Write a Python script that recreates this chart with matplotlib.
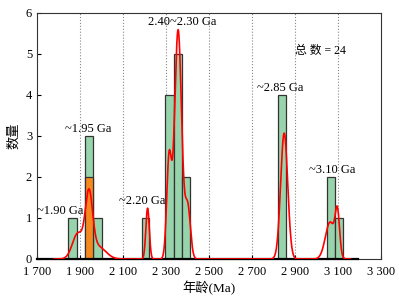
import numpy as np
import matplotlib
matplotlib.use('Agg')
import matplotlib.pyplot as plt

plt.rcParams['font.family'] = ['Liberation Serif', 'Noto Sans CJK SC', 'DejaVu Sans']

# histogram bins (Ma) and zircon counts
bin_left = [1846, 1924, 1962, 2188, 2298, 2336, 2374, 2824, 3049, 3086]
bin_right = [1885, 1962, 2001, 2221, 2336, 2374, 2411, 2861, 3086, 3123]
counts = [1, 3, 1, 1, 4, 5, 2, 4, 2, 1]

# orange sub-population
sub_left = [1924]
sub_right = [1962]
sub_counts = [2]

# probability curve components: age, spread, height
peak_age = [1890, 1942, 1985, 2215, 2315, 2357, 2402, 2851, 3065, 3099]
peak_sd = [25, 17, 35, 8, 11, 16.6, 12.5, 16.4, 22, 10]
peak_h = [0.62, 1.5, 0.3, 1.24, 2.4, 5.59, 1.25, 3.07, 0.9, 1.0]
curve_range = [1780, 3160]
base_range = [1700, 3195]

xticks = [1700, 1900, 2100, 2300, 2500, 2700, 2900, 3100, 3300]
xtick_labels = ['1 700', '1 900', '2 100', '2 300', '2 500', '2 700', '2 900', '3 100', '3 300']
grid_x = [1900, 2100, 2300, 2500, 2700, 2900, 3100]

labels = ['~1.90 Ga', '~1.95 Ga', '~2.20 Ga', '2.40~2.30 Ga', '~2.85 Ga', '~3.10 Ga']
label_x = [1807, 1940, 2188, 2378, 2832, 3073]
label_y = [1.02, 3.02, 1.26, 5.63, 4.02, 2.02]

GREEN = '#98d4ab'
ORANGE = '#f5891f'

fig = plt.figure(figsize=(3.99, 2.98), dpi=100)
ax = fig.add_axes([0.0927, 0.1309, 0.8612, 0.8255])

for gx in grid_x:
    ax.axvline(gx, color='#888888', linestyle=':', linewidth=0.8, zorder=0)

widths = np.array(bin_right) - np.array(bin_left)
ax.bar(bin_left, counts, width=widths, align='edge', color=GREEN,
       edgecolor='#333333', linewidth=0.9, zorder=2)
sub_widths = np.array(sub_right) - np.array(sub_left)
ax.bar(sub_left, sub_counts, width=sub_widths, align='edge', color=ORANGE,
       edgecolor='#333333', linewidth=0.9, zorder=3)

ax.plot(base_range, [0, 0], color='black', linewidth=1.6, zorder=4, clip_on=False)

x = np.linspace(curve_range[0], curve_range[1], 2000)
y = np.zeros_like(x)
for mu, sd, h in zip(peak_age, peak_sd, peak_h):
    y += h * np.exp(-(x - mu) ** 2 / (2 * sd ** 2))
ax.plot(x, y, color='red', linewidth=1.2, zorder=5)

for t, tx, ty in zip(labels, label_x, label_y):
    ax.text(tx, ty, t, ha='center', va='bottom', fontsize=9, zorder=6)
ax.text(3022, 5.08, '总 数 = 24', ha='center', va='center', fontsize=8.5, zorder=6)

ax.set_xlim(1700, 3300)
ax.set_ylim(0, 6)
ax.set_xticks(xticks)
ax.set_xticklabels(xtick_labels)
ax.set_yticks(range(7))
ax.tick_params(direction='in', length=3, labelsize=9, width=0.8)
ax.tick_params(axis='x', pad=5)
for s in ax.spines.values():
    s.set_linewidth(0.8)
    s.set_color('#333333')

ax.set_xlabel('年龄(Ma)', fontsize=9.5, labelpad=2)
ax.set_ylabel('数量', fontsize=9.5, labelpad=4)

fig.savefig('out.png', dpi=100)
